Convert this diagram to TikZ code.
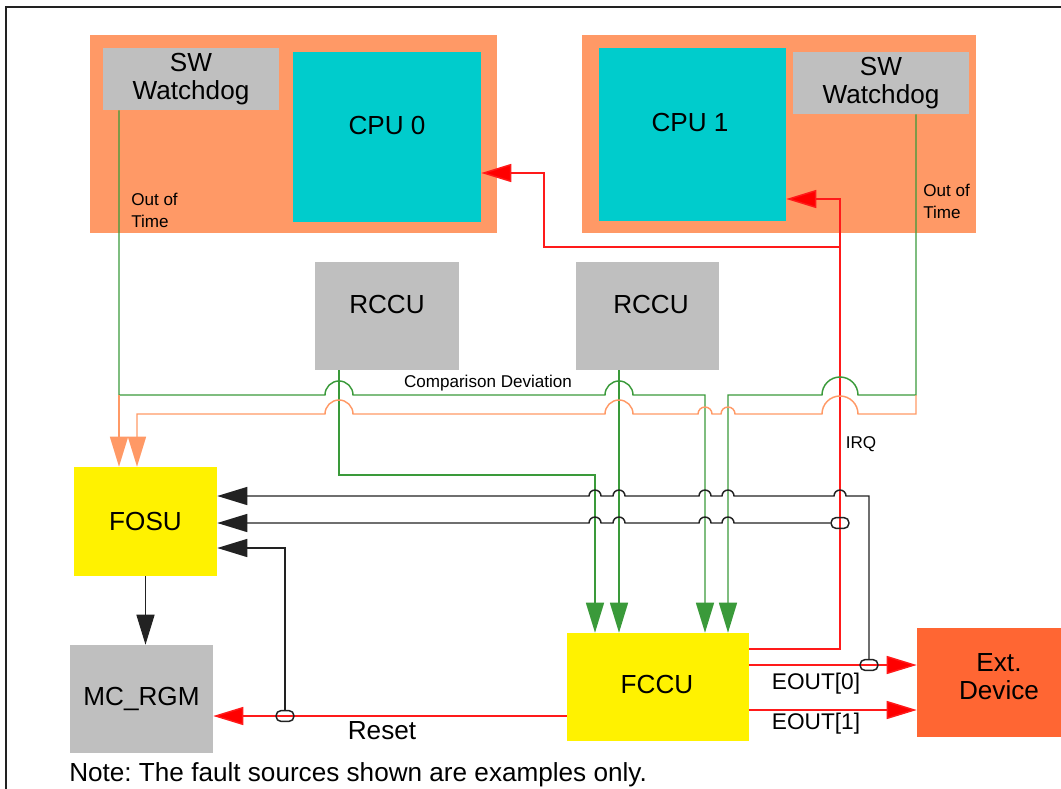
\documentclass[tikz,border=0pt]{standalone}
\usepackage{fontspec}
\setmainfont{Liberation Sans}
\usetikzlibrary{arrows.meta,calc}
\definecolor{orgbg}{HTML}{FF9966}
\definecolor{cpucyan}{HTML}{00CCCC}
\definecolor{boxgray}{HTML}{BFBFBF}
\definecolor{extorg}{HTML}{FF6633}
\definecolor{wgreen}{HTML}{3A9A3A}
\definecolor{lred}{HTML}{FF1A1A}
\definecolor{bgray}{HTML}{222222}
\frenchspacing
\begin{document}
\begin{tikzpicture}[x=0.75pt,y=-0.75pt,
  box/.style={draw=none,inner sep=0pt,align=center,font=\fontsize{19.6}{21}\selectfont},
  sz/.style 2 args={minimum width=#1*0.75pt,minimum height=#2*0.75pt},
  bigtxt/.style={inner sep=0pt,align=center,font=\fontsize{19.6}{21}\selectfont},
  midtxt/.style={inner sep=0pt,align=center,font=\fontsize{17}{19}\selectfont},
  smalltxt/.style={inner sep=0pt,align=left,font=\fontsize{12.8}{16.5}\selectfont},
  bigarrow/.style={-{Triangle[length=22.5pt,width=13.5pt]}},
  redarrow/.style={-{Triangle[length=22.5pt,width=13.5pt,fill=red]}},
  gline/.style={draw=wgreen,line width=1.1pt},
  oline/.style={draw=orgbg,line width=1.1pt},
  rline/.style={draw=lred,line width=1.1pt},
  bline/.style={draw=bgray,line width=1.1pt},
  capsule/.style={draw=bgray,line width=1.1pt,rounded corners=3.9pt,inner sep=0pt,minimum width=13.5pt,minimum height=8.2pt}
]
\useasboundingbox (0,0) rectangle (1061,789);
\draw[bgray,line width=1.5pt] (6,789) -- (6,7) -- (1061,7);

% boxes
\node[box,fill=orgbg,sz={407}{198}] (orgL) at (293.5,134) {};
\node[box,fill=orgbg,sz={394}{198}] (orgR) at (779,134) {};
\node[box,fill=boxgray,sz={176}{62}] (swL) at (191,79) {SW\\Watchdog};
\node[box,fill=cpucyan,sz={188}{170}] (cpu0) at (387,137) {};
\node[bigtxt] (cpu0t) at (387,126) {CPU 0};
\node[box,fill=cpucyan,sz={187}{173}] (cpu1) at (692.5,134.5) {};
\node[bigtxt] (cpu1t) at (690,123) {CPU 1};
\node[box,fill=boxgray,sz={176}{62}] (swR) at (881,83) {SW\\Watchdog};
\node[box,fill=boxgray,sz={144}{108}] (rccu1) at (387,316) {};
\node[bigtxt] (rccu1t) at (387,304) {RCCU};
\node[box,fill=boxgray,sz={143}{108}] (rccu2) at (647.5,316) {};
\node[bigtxt] (rccu2t) at (651,304) {RCCU};
\node[box,fill=yellow,sz={143}{109}] (fosu) at (145.5,521.5) {FOSU};
\node[box,fill=boxgray,sz={143}{108}] (mcrgm) at (141.5,699) {MC\_RGM};
\node[box,fill=yellow,sz={182}{108}] (fccu) at (658,687) {};
\node[bigtxt] (fccut) at (657,684) {FCCU};
\node[box,fill=extorg,sz={144}{109}] (ext) at (989,682.5) {};
\node[bigtxt] (extt) at (999,677) {Ext.\\Device};

% labels
\node[smalltxt,anchor=west] (oot1) at (131,210) {Out of\\Time};
\node[smalltxt,anchor=west] (oot2) at (923,201) {Out of\\Time};
\node[smalltxt] (cmp) at (488,383) {Comparison Deviation};
\node[smalltxt] (irq) at (861,444) {IRQ};
\node[midtxt] (eo0) at (816,684) {EOUT[0]};
\node[midtxt] (eo1) at (816,724) {EOUT[1]};
\node[bigtxt] (rst) at (382,731) {Reset};
\node[bigtxt,anchor=west] (note) at (69,775) {Note: The fault sources shown are examples only.};

% coordinates
\coordinate (g1) at (119,395);
\coordinate (g2) at (705,395);
\coordinate (g3) at (916,395);
\coordinate (g4) at (728,395);
\coordinate (g5) at (339,475);
\coordinate (g6) at (595,475);
\coordinate (g7) at (619,475);
\coordinate (o1) at (916,414);
\coordinate (o2) at (137,414);
\coordinate (b1) at (869,496);
\coordinate (b3) at (285,548);
\coordinate (r1) at (840,649);
\coordinate (r2) at (840,199);
\coordinate (r3) at (840,247);
\coordinate (r4) at (544,247);
\coordinate (r5) at (544,173);
\coordinate (e1) at (749,710);

% junction symbol positions
\coordinate (j1c) at (840,523);
\coordinate (j2c) at (869,665);
\coordinate (j3c) at (285,716);

% red lines
\draw[rline,redarrow] (fccu.east |- r1) -- (r1) -- (r2) -- (cpu1.east |- r2);
\draw[rline,redarrow] (r3) -- (r4) -- (r5) -- (cpu0.east |- r5);
\draw[rline,redarrow] (fccu.east |- j2c) -- (ext.west |- j2c);
\draw[rline,redarrow] (fccu.east |- e1) -- (ext.west |- e1);
\draw[rline,redarrow] (fccu.west |- j3c) -- (mcrgm.east |- j3c);

% green lines
\draw[gline,bigarrow] (swL.south -| g1) -- (g1)
  -- (325,395) arc[start angle=180,end angle=0,radius=10.5pt]
  -- (605,395) arc[start angle=180,end angle=0,radius=10.5pt]
  -- (g2) -- (fccu.north -| g2);
\draw[gline,bigarrow] (swR.south -| g3) -- (g3)
  -- (858,395) arc[start angle=0,end angle=180,radius=13.5pt]
  -- (g4) -- (fccu.north -| g4);
\draw[gline,bigarrow] (rccu1.south -| g5) -- (g5) -- (g6) -- (fccu.north -| g6);
\draw[gline,bigarrow] (rccu2.south -| g7) -- (fccu.north -| g7);

% orange lines
\draw[oline,bigarrow] (g1) -- (fosu.north -| g1);
\draw[oline,bigarrow] (g3) -- (o1)
  -- (858,414) arc[start angle=0,end angle=180,radius=13.5pt]
  -- (735,414) arc[start angle=0,end angle=180,radius=5.25pt]
  -- (712,414) arc[start angle=0,end angle=180,radius=5.25pt]
  -- (633,414) arc[start angle=0,end angle=180,radius=10.5pt]
  -- (353,414) arc[start angle=0,end angle=180,radius=10.5pt]
  -- (o2) -- (fosu.north -| o2);

% junction capsules
\node[capsule] (j1) at (j1c) {};
\node[capsule] (j2) at (j2c) {};
\node[capsule] (j3) at (j3c) {};

% black lines
\draw[bline,bigarrow] (j2.north) -- (b1)
  -- (846,496) arc[start angle=0,end angle=180,radius=4.5pt]
  -- (734,496) arc[start angle=0,end angle=180,radius=4.5pt]
  -- (711,496) arc[start angle=0,end angle=180,radius=4.5pt]
  -- (625,496) arc[start angle=0,end angle=180,radius=4.5pt]
  -- (601,496) arc[start angle=0,end angle=180,radius=4.5pt]
  -- (fosu.east |- b1);
\draw[bline,bigarrow] (j1.west)
  -- (734,523) arc[start angle=0,end angle=180,radius=4.5pt]
  -- (711,523) arc[start angle=0,end angle=180,radius=4.5pt]
  -- (625,523) arc[start angle=0,end angle=180,radius=4.5pt]
  -- (601,523) arc[start angle=0,end angle=180,radius=4.5pt]
  -- (fosu.east |- j1);
\draw[bline,bigarrow] (j3.north) -- (b3) -- (fosu.east |- b3);
\draw[bline,bigarrow] (fosu.south) -- (fosu.south |- mcrgm.north);
\end{tikzpicture}
\end{document}
